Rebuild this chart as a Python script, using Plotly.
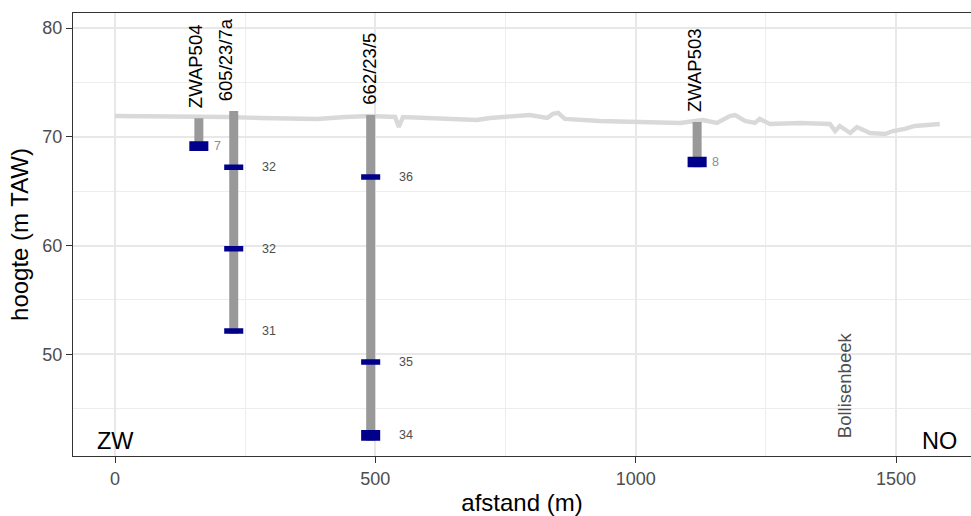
import plotly.graph_objects as go

# Surface profile along the section (distance in m, elevation in m TAW)
profile_dist = [0, 67, 161, 215, 278, 342, 388, 442, 490, 538, 545, 553, 605, 643, 695,
                720, 759, 797, 830, 841, 851, 864, 931, 1008, 1085, 1129, 1143, 1156,
                1181, 1191, 1210, 1229, 1238, 1258, 1316, 1373, 1383, 1392, 1412, 1425,
                1450, 1479, 1494, 1517, 1536, 1584]
profile_elev = [71.91, 71.91, 71.82, 71.82, 71.73, 71.64, 71.64, 71.82, 71.91, 71.82, 70.90,
                71.82, 71.73, 71.64, 71.54, 71.73, 71.82, 72.00, 71.73, 72.10, 72.19, 71.64,
                71.45, 71.36, 71.27, 71.54, 71.45, 71.27, 71.91, 72.00, 71.45, 71.27, 71.64,
                71.18, 71.27, 71.18, 70.53, 70.99, 70.35, 70.90, 70.35, 70.26, 70.53, 70.72,
                70.99, 71.18]

# Boreholes
bh_name = ["ZWAP504", "605/23/7a", "662/23/5", "ZWAP503"]
bh_dist = [161, 228, 491, 1118]
bh_top = [71.70, 72.37, 72.00, 71.36]
bh_bottom = [68.70, 51.90, 42.05, 67.20]

# Filter screens (borehole index, top and bottom elevation, label)
filt_bh = [0, 1, 1, 1, 2, 2, 2, 3]
filt_top = [69.60, 67.45, 59.95, 52.40, 66.55, 49.55, 43.05, 68.17]
filt_bottom = [68.70, 66.95, 59.45, 51.90, 66.05, 49.05, 42.05, 67.20]
filt_label = ["7", "32", "32", "31", "36", "35", "34", "8"]

FONT = "Liberation Sans, Arial, sans-serif"
FILTER_HALF_W = 18.3   # m
fig = go.Figure()

# surface line
fig.add_trace(go.Scatter(x=profile_dist, y=profile_elev, mode="lines",
                         line=dict(color="#d9d9d9", width=4.4),
                         hoverinfo="skip", showlegend=False))

# casings
cx, cy = [], []
for x, t, b in zip(bh_dist, bh_top, bh_bottom):
    cx += [x, x, None]
    cy += [b, t, None]
fig.add_trace(go.Scatter(x=cx, y=cy, mode="lines",
                         line=dict(color="#999999", width=9),
                         hoverinfo="skip", showlegend=False))

# filter screens
fx, fy = [], []
for i, t, b in zip(filt_bh, filt_top, filt_bottom):
    x = bh_dist[i]
    fx += [x - FILTER_HALF_W, x + FILTER_HALF_W, x + FILTER_HALF_W, x - FILTER_HALF_W,
           x - FILTER_HALF_W, None]
    fy += [b, b, t, t, b, None]
fig.add_trace(go.Scatter(x=fx, y=fy, mode="lines", fill="toself",
                         fillcolor="#00008b", line=dict(width=0, color="#00008b"),
                         hoverinfo="skip", showlegend=False))

ann = []
# borehole names
name_nudge = [-4, -8, -2, -2]
for n, x, t, dx in zip(bh_name, bh_dist, bh_top, name_nudge):
    ann.append(dict(x=x, y=t, text=n, showarrow=False, textangle=-90,
                    xanchor="center", yanchor="bottom", xshift=dx, yshift=8,
                    font=dict(family=FONT, size=18.5, color="#000000")))

# filter labels
for i, t, b, lab in zip(filt_bh, filt_top, filt_bottom, filt_label):
    zwap = bh_name[i].startswith("ZWAP")
    ann.append(dict(x=bh_dist[i], y=(t + b) / 2, text=lab, showarrow=False,
                    xanchor="left", yanchor="middle",
                    xshift=13 if zwap else 26,
                    font=dict(family=FONT, size=12.5,
                              color="#8c8c8c" if zwap else "#4d4d4d")))

# section ends and stream
ann.append(dict(x=0, y=42.0, text="ZW", showarrow=False, xanchor="center",
                yanchor="middle", font=dict(family=FONT, size=23.5, color="#000000")))
ann.append(dict(x=profile_dist[-1], y=42.0, text="NO", showarrow=False, xanchor="center",
                yanchor="middle", font=dict(family=FONT, size=23.5, color="#000000")))
ann.append(dict(x=1400, y=42.1, text="Bollisenbeek", showarrow=False, textangle=-90,
                xanchor="center", yanchor="bottom",
                font=dict(family=FONT, size=18.5, color="#4d4d4d")))

fig.update_layout(
    width=971, height=516,
    margin=dict(l=73, r=0, t=13, b=60),
    paper_bgcolor="white", plot_bgcolor="white",
    annotations=ann,
    showlegend=False,
    xaxis=dict(range=[-80.7, 1644], tickvals=[0, 500, 1000, 1500],
               ticks="outside", ticklen=6, tickcolor="#333333", tickwidth=1.1,
               showline=True, linecolor="#333333", linewidth=1.1, mirror=True,
               showgrid=True, gridcolor="#e8e8e8", gridwidth=1.7, zeroline=False,
               minor=dict(dtick=250, tick0=0, showgrid=True, gridcolor="#ededed", gridwidth=1),
               tickfont=dict(family=FONT, size=18, color="#4d4d4d"),
               title=dict(text="afstand (m)", standoff=6,
                          font=dict(family=FONT, size=24, color="#000000"))),
    yaxis=dict(range=[40.65, 81.38], tickvals=[50, 60, 70, 80],
               ticks="outside", ticklen=6, tickcolor="#333333", tickwidth=1.1,
               showline=True, linecolor="#333333", linewidth=1.1, mirror=False,
               showgrid=True, gridcolor="#e8e8e8", gridwidth=1.7, zeroline=False,
               minor=dict(dtick=5, tick0=0, showgrid=True, gridcolor="#ededed", gridwidth=1),
               tickfont=dict(family=FONT, size=18, color="#4d4d4d"),
               title=dict(text="hoogte (m TAW)", standoff=6,
                          font=dict(family=FONT, size=24, color="#000000"))),
)

fig.write_html("out.html")
